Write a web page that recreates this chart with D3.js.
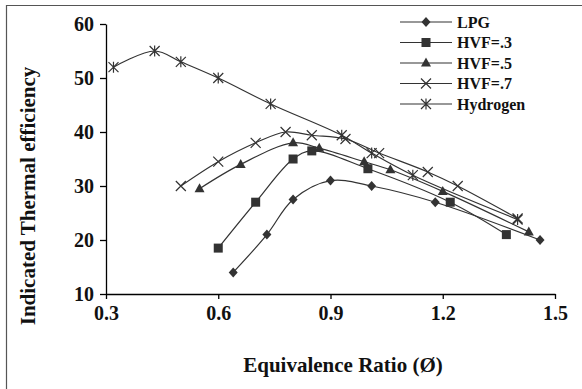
<!DOCTYPE html>
<html><head><meta charset="utf-8">
<script src="https://cdn.jsdelivr.net/npm/d3@7"></script>
<style>body{margin:0;background:#fff}svg{display:block}</style>
</head><body>
<script>
const seriesNames = ["LPG", "HVF=.3", "HVF=.5", "HVF=.7", "Hydrogen"];
const lpgX = [0.64, 0.73, 0.80, 0.90, 1.01, 1.18, 1.46];
const lpgY = [14, 21, 27.5, 31, 30, 27, 20];
const hvf3X = [0.60, 0.70, 0.80, 0.85, 1.00, 1.22, 1.37];
const hvf3Y = [18.5, 27, 35, 36.5, 33.2, 27, 21];
const hvf5X = [0.55, 0.66, 0.80, 0.87, 0.99, 1.06, 1.20, 1.43];
const hvf5Y = [29.5, 34, 38, 37, 34.5, 33, 29, 21.5];
const hvf7X = [0.50, 0.60, 0.70, 0.78, 0.85, 0.94, 1.03, 1.16, 1.24, 1.40];
const hvf7Y = [30, 34.5, 38, 40, 39.4, 38.7, 36.1, 32.6, 30, 24];
const h2X = [0.32, 0.43, 0.50, 0.60, 0.74, 0.93, 1.01, 1.12, 1.40];
const h2Y = [52, 55, 53, 50, 45.2, 39.4, 36.1, 32, 23.8];
const xTicks = [0.3, 0.6, 0.9, 1.2, 1.5];
const yTicks = [10, 20, 30, 40, 50, 60];

const W = 582, H = 389;
const col = "#333";
const svg = d3.select("body").append("svg").attr("width", W).attr("height", H);

// outer frame (top & left visible)
svg.append("line").attr("x1", 6).attr("y1", 5.5).attr("x2", W).attr("y2", 5.5).attr("stroke", "#555").attr("stroke-width", 1.2);
svg.append("line").attr("x1", 6.5).attr("y1", 5).attr("x2", 6.5).attr("y2", H).attr("stroke", "#555").attr("stroke-width", 1.2);

const x = d3.scaleLinear().domain([0.3, 1.5]).range([106, 555]);
const y = d3.scaleLinear().domain([10, 60]).range([294, 24]);

const font = "'Liberation Serif', 'Times New Roman', serif";

const xAxis = svg.append("g").attr("transform", "translate(0,294)")
  .call(d3.axisBottom(x).tickValues(xTicks).tickFormat(d3.format(".1f")).tickSize(5).tickSizeOuter(0));
const yAxis = svg.append("g").attr("transform", "translate(106,0)")
  .call(d3.axisLeft(y).tickValues(yTicks).tickFormat(d3.format("d")).tickSize(6).tickSizeOuter(0));
[xAxis, yAxis].forEach(g => {
  g.select(".domain").attr("stroke", "#000").attr("stroke-width", 1.3);
  g.selectAll(".tick line").attr("stroke", "#000").attr("stroke-width", 1.3);
  g.selectAll("text").attr("fill", "#111").style("font-family", font).style("font-weight", "bold").style("font-size", "20px");
});
xAxis.selectAll("text").attr("y", 12);
yAxis.selectAll("text").attr("x", -12).attr("dy", "0.34em");

// axis titles
svg.append("text").attr("x", 343).attr("y", 372).attr("text-anchor", "middle")
  .style("font-family", font).style("font-weight", "bold").style("font-size", "21px").attr("fill", "#111")
  .text("Equivalence Ratio (Ø)");
svg.append("text").attr("transform", "translate(35,196) rotate(-90)").attr("text-anchor", "middle")
  .style("font-family", font).style("font-weight", "bold").style("font-size", "21px").attr("fill", "#111")
  .text("Indicated Thermal efficiency");

const data = [
  {name: seriesNames[0], xs: lpgX, ys: lpgY, m: "diamond"},
  {name: seriesNames[1], xs: hvf3X, ys: hvf3Y, m: "square"},
  {name: seriesNames[2], xs: hvf5X, ys: hvf5Y, m: "triangle"},
  {name: seriesNames[3], xs: hvf7X, ys: hvf7Y, m: "cross"},
  {name: seriesNames[4], xs: h2X, ys: h2Y, m: "star"}
];

function drawMarker(g, type, cx, cy) {
  if (type === "diamond") {
    g.append("path").attr("d", `M${cx},${cy-5}L${cx+4.5},${cy}L${cx},${cy+5}L${cx-4.5},${cy}Z`).attr("fill", col);
  } else if (type === "square") {
    g.append("rect").attr("x", cx-4.5).attr("y", cy-4.5).attr("width", 9).attr("height", 9).attr("fill", col);
  } else if (type === "triangle") {
    g.append("path").attr("d", `M${cx},${cy-5.5}L${cx+5},${cy+3.5}L${cx-5},${cy+3.5}Z`).attr("fill", col);
  } else if (type === "cross") {
    g.append("path").attr("d", `M${cx-5},${cy-5}L${cx+5},${cy+5}M${cx-5},${cy+5}L${cx+5},${cy-5}`).attr("stroke", col).attr("stroke-width", 1.2).attr("fill", "none");
  } else if (type === "star") {
    g.append("path").attr("d", `M${cx-5},${cy-5}L${cx+5},${cy+5}M${cx-5},${cy+5}L${cx+5},${cy-5}M${cx},${cy-5.5}L${cx},${cy+5.5}`).attr("stroke", col).attr("stroke-width", 1.2).attr("fill", "none");
  }
}

const line = d3.line().x(d => x(d[0])).y(d => y(d[1])).curve(d3.curveCatmullRom.alpha(0.5));
data.forEach(s => {
  const pts = s.xs.map((v, i) => [v, s.ys[i]]);
  svg.append("path").datum(pts).attr("d", line).attr("fill", "none").attr("stroke", col).attr("stroke-width", 1.2);
});
data.forEach(s => {
  const g = svg.append("g");
  s.xs.forEach((v, i) => drawMarker(g, s.m, x(v), y(s.ys[i])));
});

// legend
const leg = svg.append("g");
data.forEach((s, i) => {
  const ly = 22 + i * 20.5;
  leg.append("line").attr("x1", 400).attr("x2", 452).attr("y1", ly).attr("y2", ly).attr("stroke", col).attr("stroke-width", 1.2);
  drawMarker(leg, s.m, 426, ly);
  leg.append("text").attr("x", 457).attr("y", ly).attr("dy", "0.35em")
    .style("font-family", font).style("font-weight", "bold").style("font-size", "16px").attr("fill", "#111")
    .text(s.name);
});
</script>
</body></html>
